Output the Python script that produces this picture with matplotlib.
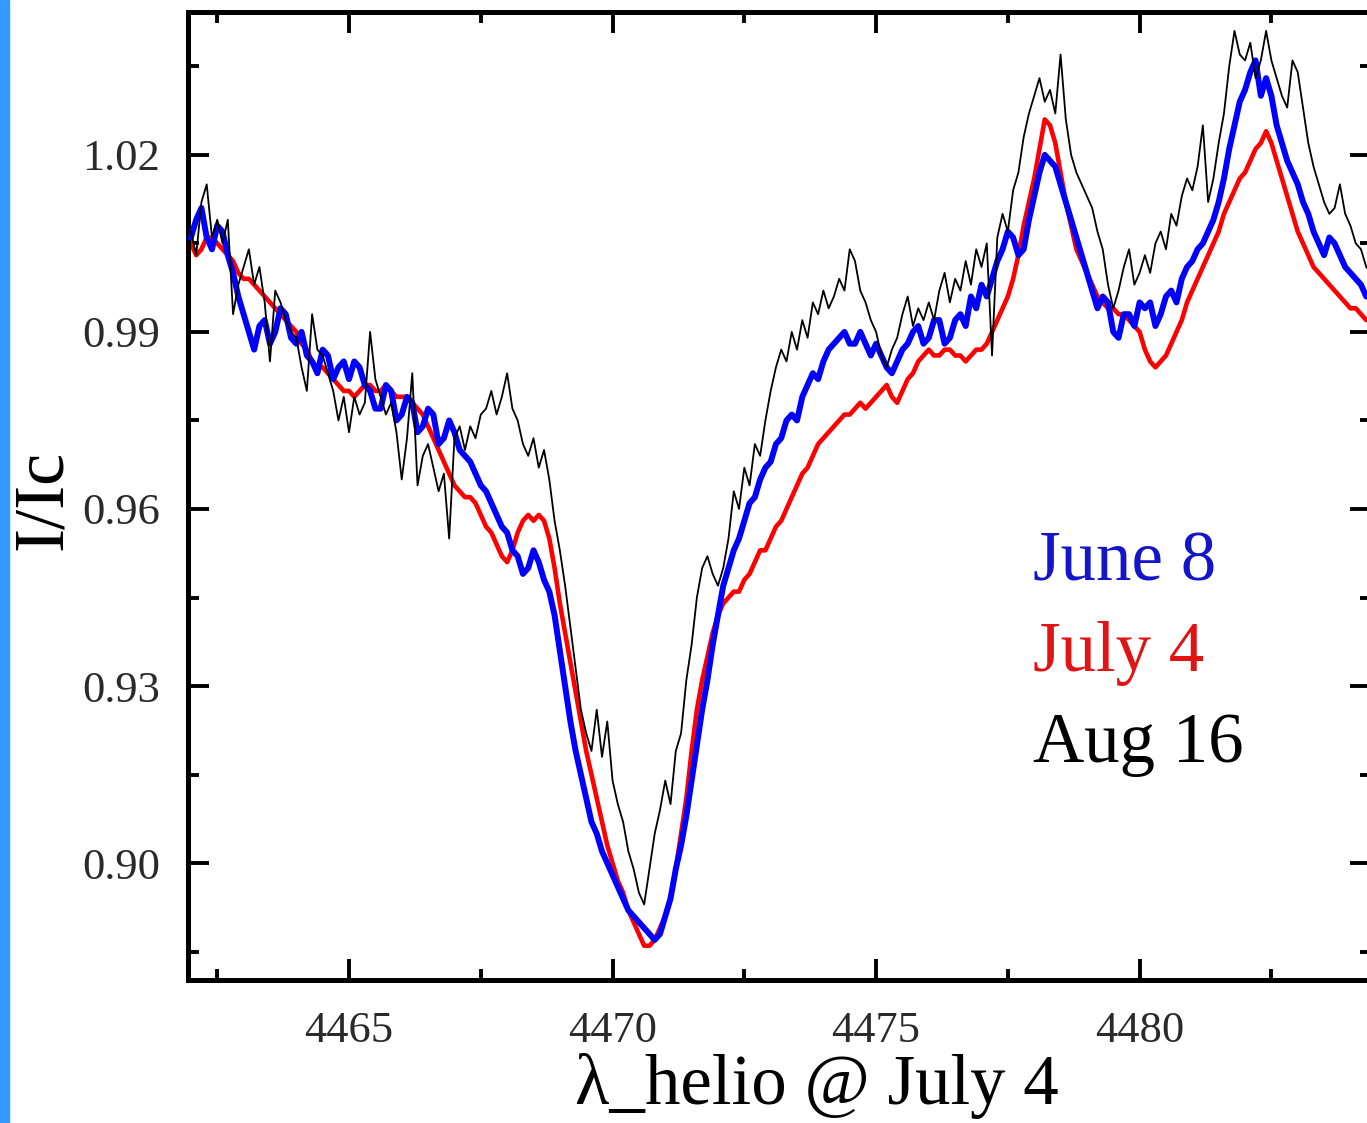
import numpy as np
import matplotlib
matplotlib.use("Agg")
import matplotlib.pyplot as plt
from matplotlib.patches import Rectangle
from matplotlib.ticker import MultipleLocator, FormatStrFormatter

plt.rcParams['font.family'] = ['Liberation Serif', 'DejaVu Serif']

# --- spectra (I/Ic), one row per Angstrom ---
# all three sampled every 0.1 A starting at 4462.0
WL0 = 4462.0
STEP = 0.1
june8 = [
    1.006, 1.009, 1.011, 1.006, 1.004, 1.008, 1.007, 1.003, 1.000, 0.996,
    0.993, 0.990, 0.987, 0.991, 0.992, 0.988, 0.990, 0.994, 0.993, 0.989,
    0.988, 0.990, 0.986, 0.985, 0.983, 0.987, 0.986, 0.982, 0.984, 0.985,
    0.982, 0.985, 0.984, 0.981, 0.980, 0.977, 0.977, 0.981, 0.980, 0.975,
    0.976, 0.979, 0.978, 0.973, 0.974, 0.977, 0.976, 0.971, 0.972, 0.975,
    0.973, 0.970, 0.969, 0.968, 0.966, 0.964, 0.963, 0.961, 0.959, 0.957,
    0.956, 0.953, 0.952, 0.949, 0.950, 0.953, 0.951, 0.948, 0.946, 0.942,
    0.936, 0.930, 0.924, 0.919, 0.915, 0.911, 0.907, 0.905, 0.902, 0.900,
    0.898, 0.896, 0.894, 0.892, 0.891, 0.890, 0.889, 0.888, 0.887, 0.888,
    0.891, 0.894, 0.899, 0.903, 0.908, 0.914, 0.920, 0.926, 0.931, 0.937,
    0.942, 0.947, 0.950, 0.953, 0.955, 0.958, 0.961, 0.962, 0.965, 0.967,
    0.968, 0.971, 0.972, 0.975, 0.976, 0.975, 0.979, 0.981, 0.983, 0.982,
    0.985, 0.987, 0.988, 0.989, 0.990, 0.988, 0.988, 0.990, 0.988, 0.986,
    0.988, 0.986, 0.984, 0.983, 0.985, 0.987, 0.988, 0.990, 0.991, 0.988,
    0.989, 0.992, 0.992, 0.988, 0.989, 0.992, 0.993, 0.991, 0.996, 0.994,
    0.998, 0.996, 0.999, 1.002, 1.004, 1.007, 1.006, 1.003, 1.004, 1.009,
    1.013, 1.017, 1.020, 1.019, 1.018, 1.015, 1.012, 1.009, 1.006, 1.003,
    1.000, 0.997, 0.994, 0.996, 0.995, 0.990, 0.989, 0.993, 0.993, 0.991,
    0.995, 0.994, 0.995, 0.991, 0.993, 0.996, 0.997, 0.995, 0.999, 1.001,
    1.002, 1.004, 1.005, 1.007, 1.009, 1.012, 1.016, 1.021, 1.025, 1.029,
    1.031, 1.034, 1.036, 1.030, 1.033, 1.030, 1.025, 1.022, 1.019, 1.017,
    1.015, 1.012, 1.010, 1.007, 1.005, 1.003, 1.006, 1.005, 1.003, 1.001,
    1.000, 0.999, 0.998, 0.996, 0.997,
]
july4 = [
    1.005, 1.003, 1.004, 1.006, 1.006, 1.005, 1.004, 1.003, 1.002, 1.000,
    0.999, 0.999, 0.998, 0.997, 0.996, 0.995, 0.994, 0.993, 0.992, 0.991,
    0.990, 0.988, 0.987, 0.985, 0.984, 0.984, 0.983, 0.982, 0.981, 0.980,
    0.980, 0.979, 0.980, 0.981, 0.981, 0.980, 0.980, 0.981, 0.980, 0.979,
    0.979, 0.979, 0.978, 0.977, 0.976, 0.974, 0.972, 0.970, 0.968, 0.966,
    0.964, 0.963, 0.962, 0.962, 0.961, 0.959, 0.957, 0.956, 0.954, 0.952,
    0.951, 0.953, 0.956, 0.958, 0.959, 0.958, 0.959, 0.958, 0.955, 0.950,
    0.944, 0.939, 0.934, 0.929, 0.924, 0.919, 0.915, 0.911, 0.907, 0.903,
    0.900, 0.897, 0.895, 0.892, 0.890, 0.888, 0.886, 0.886, 0.887, 0.889,
    0.891, 0.894, 0.899, 0.905, 0.911, 0.919, 0.926, 0.931, 0.935, 0.939,
    0.942, 0.944, 0.945, 0.946, 0.946, 0.948, 0.949, 0.951, 0.953, 0.953,
    0.955, 0.957, 0.958, 0.960, 0.962, 0.964, 0.966, 0.967, 0.969, 0.971,
    0.972, 0.973, 0.974, 0.975, 0.976, 0.976, 0.977, 0.978, 0.977, 0.978,
    0.979, 0.980, 0.981, 0.979, 0.978, 0.980, 0.982, 0.983, 0.985, 0.986,
    0.987, 0.986, 0.986, 0.987, 0.987, 0.986, 0.986, 0.985, 0.986, 0.987,
    0.987, 0.988, 0.990, 0.992, 0.994, 0.996, 0.999, 1.003, 1.008, 1.012,
    1.016, 1.021, 1.026, 1.025, 1.022, 1.017, 1.012, 1.008, 1.004, 1.002,
    1.000, 0.998, 0.996, 0.995, 0.994, 0.994, 0.993, 0.993, 0.992, 0.991,
    0.990, 0.987, 0.985, 0.984, 0.985, 0.986, 0.988, 0.990, 0.992, 0.995,
    0.997, 0.999, 1.001, 1.003, 1.005, 1.007, 1.010, 1.012, 1.014, 1.016,
    1.017, 1.019, 1.021, 1.022, 1.024, 1.022, 1.019, 1.016, 1.013, 1.010,
    1.007, 1.005, 1.003, 1.001, 1.000, 0.999, 0.998, 0.997, 0.996, 0.995,
    0.994, 0.994, 0.993, 0.992, 0.992,
]
aug16 = [
    1.007, 1.003, 1.012, 1.015, 1.006, 1.009, 1.005, 1.009, 0.993, 0.998,
    1.001, 1.004, 0.998, 1.001, 0.995, 0.985, 0.997, 0.995, 0.992, 0.990,
    0.989, 0.984, 0.980, 0.993, 0.987, 0.986, 0.983, 0.980, 0.975, 0.979,
    0.973, 0.979, 0.976, 0.978, 0.990, 0.982, 0.979, 0.976, 0.978, 0.973,
    0.965, 0.972, 0.983, 0.964, 0.969, 0.971, 0.967, 0.963, 0.966, 0.955,
    0.972, 0.974, 0.970, 0.974, 0.972, 0.976, 0.977, 0.980, 0.976, 0.979,
    0.983, 0.977, 0.975, 0.971, 0.969, 0.972, 0.967, 0.970, 0.965, 0.958,
    0.953, 0.947, 0.940, 0.933, 0.926, 0.922, 0.919, 0.926, 0.918, 0.924,
    0.914, 0.910, 0.907, 0.902, 0.899, 0.895, 0.893, 0.899, 0.905, 0.909,
    0.914, 0.910, 0.919, 0.922, 0.931, 0.937, 0.945, 0.950, 0.952, 0.949,
    0.947, 0.950, 0.955, 0.963, 0.960, 0.967, 0.964, 0.971, 0.969, 0.975,
    0.980, 0.984, 0.987, 0.985, 0.990, 0.987, 0.992, 0.989, 0.995, 0.993,
    0.997, 0.994, 0.996, 0.999, 0.997, 1.004, 1.002, 0.997, 0.995, 0.992,
    0.990, 0.986, 0.984, 0.987, 0.989, 0.993, 0.996, 0.991, 0.994, 0.992,
    0.995, 0.992, 0.997, 1.000, 0.995, 0.999, 0.997, 1.002, 0.998, 1.004,
    1.001, 1.005, 0.986, 1.006, 1.010, 1.007, 1.014, 1.017, 1.023, 1.027,
    1.030, 1.033, 1.029, 1.031, 1.027, 1.037, 1.026, 1.020, 1.017, 1.015,
    1.013, 1.011, 1.007, 1.004, 0.998, 0.994, 0.997, 1.001, 1.004, 0.998,
    1.000, 1.003, 1.000, 1.005, 1.007, 1.004, 1.010, 1.008, 1.013, 1.016,
    1.014, 1.018, 1.025, 1.012, 1.016, 1.022, 1.027, 1.035, 1.041, 1.037,
    1.036, 1.039, 1.033, 1.036, 1.041, 1.036, 1.033, 1.030, 1.028, 1.036,
    1.034, 1.028, 1.022, 1.018, 1.015, 1.012, 1.010, 1.011, 1.015, 1.010,
    1.008, 1.005, 1.004, 1.001, 1.000,
]

labels = ["June 8", "July 4", "Aug 16"]
line_colors = ["#0000ff", "#ff0000", "#000000"]
text_colors = ["#1414c8", "#e01414", "#000000"]

wl = WL0 + STEP * np.arange(len(aug16))

fig = plt.figure(figsize=(13.67, 11.23), dpi=100)
fig.patches.append(Rectangle((0, 0), 9 / 1367, 1, transform=fig.transFigure,
                             color="#3399ff", zorder=0))

ax = fig.add_axes([188 / 1367, 143 / 1123, 1183 / 1367, 968 / 1123])
ax.plot(wl[:len(july4)], july4, color=line_colors[1], lw=3.3, zorder=2)
ax.plot(wl[:len(june8)], june8, color=line_colors[0], lw=4.3, zorder=3)
ax.plot(wl, aug16, color=line_colors[2], lw=1.3, zorder=4)

ax.set_xlim(4461.945, 4484.39)
ax.set_ylim(0.8802, 1.0442)

ax.xaxis.set_major_locator(MultipleLocator(5))
ax.xaxis.set_minor_locator(MultipleLocator(2.5))
ax.yaxis.set_major_locator(MultipleLocator(0.03))
ax.yaxis.set_minor_locator(MultipleLocator(0.015))
ax.yaxis.set_major_formatter(FormatStrFormatter("%.2f"))

ax.tick_params(which="both", direction="in", top=True, right=True,
               width=2.8, labelsize=32, labelcolor="#2a2a2a")
ax.tick_params(which="major", length=15)
ax.tick_params(which="minor", length=8)
ax.tick_params(axis="x", pad=22)
ax.tick_params(axis="y", pad=20)
for s in ax.spines.values():
    s.set_linewidth(3.6)

# legend as coloured text
for i, (lab, c) in enumerate(zip(labels, text_colors)):
    ax.text(0.714, 0.413 - i * 0.094, lab, color=c, fontsize=51,
            transform=ax.transAxes, ha="left", va="baseline")

fig.text(43 / 1367, (1123 - 500) / 1123, "I/Ic", rotation=90, fontsize=52,
         ha="center", va="center")
fig.text(817 / 1367, (1123 - 1104) / 1123, "\u03bb_helio @ July 4", fontsize=51,
         ha="center", va="baseline")

fig.savefig("out.png", dpi=100)
